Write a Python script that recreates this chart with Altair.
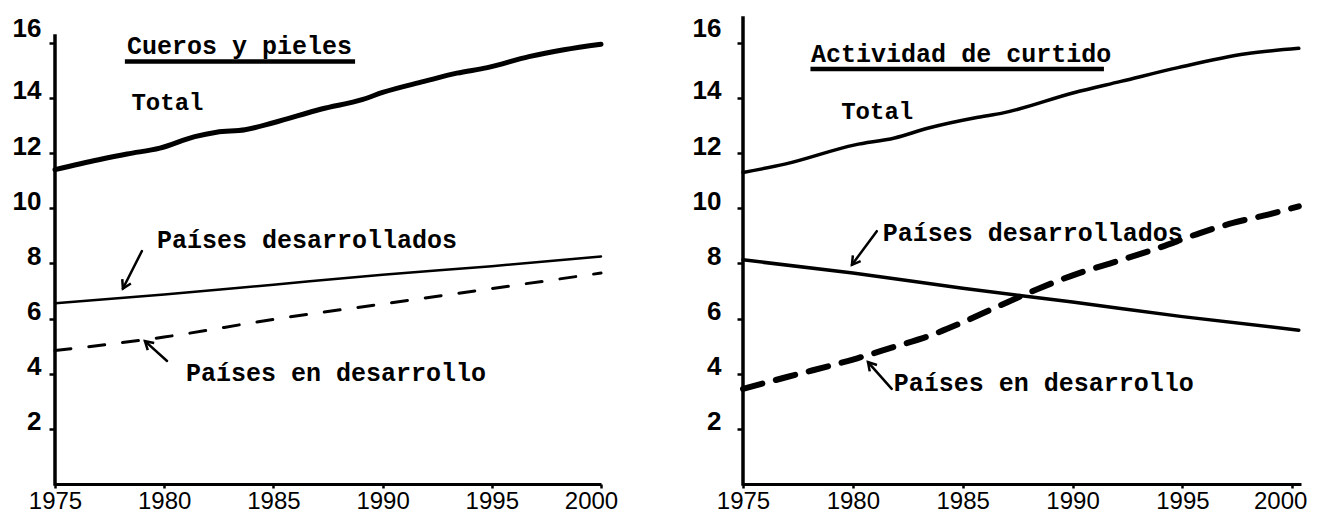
import math
import altair as alt
import pandas as pd

# ---------------- data ----------------
# Left panel: Cueros y pieles
L_total_years = [1975, 1977, 1978.3, 1979.8, 1981.4, 1982.4, 1983.7, 1985, 1987.2, 1989.1,
                 1990, 1991.9, 1993.4, 1994.8, 1996.7, 1998.3, 2000]
L_total_vals = [11.4, 11.76, 11.97, 12.18, 12.6, 12.76, 12.85, 13.1, 13.6, 13.95,
                14.2, 14.6, 14.9, 15.1, 15.5, 15.75, 15.95]
L_dev_years = [1975, 1980, 1985, 1990, 1995, 2000]
L_dev_vals = [6.55, 6.87, 7.23, 7.59, 7.9, 8.25]
L_ing_years = [1975, 1980, 1985, 1990, 1995, 2000]
L_ing_vals = [4.84, 5.33, 5.97, 6.53, 7.09, 7.65]

# Right panel: Actividad de curtido
R_total_years = [1975, 1976.9, 1980.1, 1981.9, 1983.4, 1985.7, 1986.8, 1990.1, 1992.2,
                 1994.8, 1997.9, 2000.3]
R_total_vals = [11.3, 11.6, 12.3, 12.55, 12.9, 13.3, 13.45, 14.2, 14.6, 15.1, 15.6, 15.8]
R_dev_years = [1975, 1980, 1985, 1990, 1995, 2000.3]
R_dev_vals = [8.13, 7.65, 7.1, 6.6, 6.07, 5.58]
R_ing_years = [1975, 1977, 1980.2, 1981.9, 1983.4, 1984.9, 1986.6, 1988.5, 1990.3, 1992,
               1993.9, 1995.8, 1997.3, 1998.9, 2000.3]
R_ing_vals = [3.45, 3.88, 4.56, 4.98, 5.35, 5.83, 6.44, 7.1, 7.65, 8.07,
              8.56, 9.1, 9.47, 9.77, 10.07]

YEAR_TICKS = [1975, 1980, 1985, 1990, 1995, 2000]
VALUE_TICKS = [2, 4, 6, 8, 10, 12, 14, 16]

# titles and labels
L_title = "Cueros y pieles"
R_title = "Actividad de curtido"
LBL_TOTAL = "Total"
LBL_DEV = "Países desarrollados"
LBL_ING = "Países en desarrollo"

# annotation anchors (data units: year, value)
L_text_x = [1978.3, 1978.5, 1979.67, 1981.0]
L_text_y = [15.9, 13.8, 8.85, 4.03]
R_text_x = [1978.1, 1979.47, 1981.36, 1981.86]
R_text_y = [15.6, 13.5, 9.1, 3.67]
L_underline = [1978.2, 1988.74, 15.32]
R_underline = [1978.07, 1991.43, 15.05]
# arrows: start x, start y, tip x, tip y
L_arrows = [[1978.98, 8.45, 1978.11, 7.09], [1980.13, 4.46, 1979.12, 5.18]]
R_arrows = [[1981.09, 9.17, 1979.96, 7.95], [1981.77, 3.45, 1980.69, 4.42]]
L_axis_top = 16.25
R_axis_top = 16.9

# ---------------- styling ----------------
MONO = "Liberation Mono"
SANS = "Liberation Sans"
H = 466
YMAX = 16.9


def panel(width, xmax, title, tot, dev, ing, tx, ty, underline, arrows, axis_top,
          lab_pad, tot_w, dev_w, ing_w, ing_dash, off16, off2000):
    xs = alt.Scale(domain=[1975, xmax], nice=False, zero=False)
    ys = alt.Scale(domain=[0, YMAX], nice=False)
    xaxis = alt.Axis(values=YEAR_TICKS, format="d", title=None, grid=False,
                     domain=True, domainWidth=3, domainColor="black",
                     ticks=True, tickSize=4, tickWidth=2.5, tickColor="black",
                     labelFont=SANS, labelFontSize=24, labelColor="black",
                     labelPadding=1, labelFlush=False, labelOverlap=False,
                     labelOffset={"condition": {"test": "datum.value == 2000", "value": off2000},
                                  "value": 0})
    yaxis = alt.Axis(values=VALUE_TICKS, title=None, grid=False, domain=False,
                     ticks=True, tickSize=6, tickWidth=2.5, tickColor="black",
                     labelFont=SANS, labelFontSize=26, labelFontWeight="bold",
                     labelColor="black", labelPadding=lab_pad,
                     labelOffset={"condition": {"test": "datum.value == 16", "value": off16},
                                  "value": -7})
    X = lambda f: alt.X(f, type="quantitative", scale=xs, axis=xaxis)
    Y = lambda f: alt.Y(f, type="quantitative", scale=ys, axis=yaxis)

    d_tot = pd.DataFrame({"year": tot[0], "value": tot[1]})
    d_dev = pd.DataFrame({"year": dev[0], "value": dev[1]})
    d_ing = pd.DataFrame({"year": ing[0], "value": ing[1]})

    l_tot = alt.Chart(d_tot).mark_line(color="black", strokeWidth=tot_w, strokeCap="round",
                                       strokeJoin="round", interpolate="monotone").encode(
        x=X("year"), y=Y("value"))
    l_dev = alt.Chart(d_dev).mark_line(color="black", strokeWidth=dev_w, strokeCap="round",
                                       interpolate="monotone").encode(
        x=X("year"), y=Y("value"))
    l_ing = alt.Chart(d_ing).mark_line(color="black", strokeWidth=ing_w, strokeCap="round",
                                       strokeDash=ing_dash, interpolate="monotone").encode(
        x=X("year"), y=Y("value"))

    # y axis line
    d_ax = pd.DataFrame({"year": [1975], "y0": [0], "y1": [axis_top]})
    ax_line = alt.Chart(d_ax).mark_rule(color="black", strokeWidth=3.5, strokeCap="square").encode(
        x=X("year"), y=Y("y0"), y2="y1")

    texts = [title, LBL_TOTAL, LBL_DEV, LBL_ING]
    sizes = [25, 24, 25, 25]
    d_txt = pd.DataFrame({"year": tx, "value": ty, "text": texts, "size": sizes})
    t = alt.Chart(d_txt).mark_text(align="left", baseline="middle", font=MONO,
                                   fontWeight="bold", color="black").encode(
        x=X("year"), y=Y("value"), text="text:N",
        size=alt.Size("size:Q", scale=None, legend=None))

    d_ul = pd.DataFrame({"year": [underline[0]], "x2": [underline[1]], "value": [underline[2]]})
    ul = alt.Chart(d_ul).mark_rule(color="black", strokeWidth=4.5).encode(
        x=X("year"), x2="x2", y=Y("value"))

    ppx = width / (xmax - 1975)
    ppy = H / YMAX
    rows = []
    for sx, sy, ex, ey in arrows:
        dx = (ex - sx) * ppx
        dy = -(ey - sy) * ppy
        ang = math.degrees(math.atan2(dx, -dy)) % 360
        rows.append({"year": sx, "value": sy, "x2": ex, "y2": ey, "ang": ang})
    d_ar = pd.DataFrame(rows)
    ar_line = alt.Chart(d_ar).mark_rule(color="black", strokeWidth=2.5, strokeCap="round").encode(
        x=X("year"), y=Y("value"), x2="x2", y2="y2")
    ar_head = alt.Chart(d_ar).mark_point(shape="M-0.6,1L0,0L0.6,1", filled=False, color="black",
                                         strokeWidth=2.5, size=260, opacity=1).encode(
        x=alt.X("x2", type="quantitative", scale=xs, axis=xaxis),
        y=alt.Y("y2", type="quantitative", scale=ys, axis=yaxis),
        angle=alt.Angle("ang:Q", scale=None))

    return alt.layer(ax_line, l_tot, l_dev, l_ing, ul, t, ar_line, ar_head).properties(
        width=width, height=H)


left = panel(546, 2000, L_title, (L_total_years, L_total_vals), (L_dev_years, L_dev_vals),
             (L_ing_years, L_ing_vals), L_text_x, L_text_y, L_underline, L_arrows, L_axis_top,
             lab_pad=8, tot_w=5, dev_w=2.5, ing_w=3, ing_dash=[16, 18], off16=-14, off2000=-10)
right = panel(558, 2000.4, R_title, (R_total_years, R_total_vals), (R_dev_years, R_dev_vals),
              (R_ing_years, R_ing_vals), R_text_x, R_text_y, R_underline, R_arrows, R_axis_top,
              lab_pad=16, tot_w=3.5, dev_w=3.5, ing_w=6, ing_dash=[20, 14], off16=-14,
              off2000=-12)

chart = alt.hconcat(left, right, spacing=74).properties(
    padding={"left": 4, "top": 7, "right": 0, "bottom": 0},
    background="white",
).configure_view(stroke=None)

chart.save("out.html", embed_options={"renderer": "svg", "actions": False})
